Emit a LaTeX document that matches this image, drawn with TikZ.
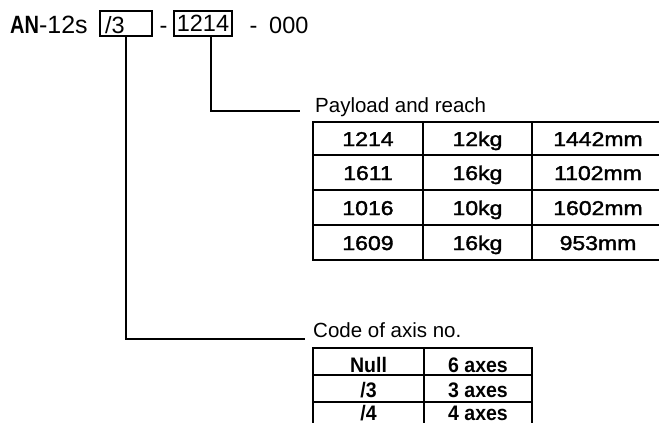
\documentclass[tikz,border=0pt]{standalone}
\usepackage{fontspec}
\setmainfont{Liberation Sans}
\newfontfamily\headfont{Liberation Sans}
\newfontfamily\labfont{Liberation Sans}
\newfontfamily\tabfont[FakeBold=1.6]{Liberation Sans}
\newfontfamily\codefont{Liberation Sans}
\begin{document}
\begin{tikzpicture}[x=1pt,y=-1pt,
  box/.style={draw=black,line width=1.3pt,inner sep=0pt},
  conn/.style={draw=black,line width=2pt},
  grid/.style={draw=black,line width=2pt},
  head/.style={inner sep=0pt,font=\headfont\fontsize{23.5}{26}\selectfont},
  lab/.style={inner sep=0pt,anchor=base west,font=\labfont\fontsize{20.5}{24}\selectfont},
  cellA/.style={inner sep=0pt,anchor=base,font=\tabfont\fontsize{20}{23}\selectfont},
  cellB/.style={inner sep=0pt,anchor=base,font=\codefont\bfseries\fontsize{21}{23}\selectfont}]
\useasboundingbox (0,0) rectangle (659,423);
\clip (0,0) rectangle (659,423);
% header
\node[inner sep=0pt,anchor=base west,font=\headfont\fontsize{25}{28}\selectfont] (an) at (10,33) {\scalebox{0.8}[1]{\bfseries AN}-12s};
\node[box,minimum width=52pt,minimum height=25pt] (b3) at (126,23.5) {};
\node[head,anchor=base west] (t3) at (105,33) {/3};
\node[head,anchor=base] (d1) at (163.5,33) {-};
\node[box,minimum width=58pt,minimum height=25pt,font=\headfont\fontsize{23.5}{26}\selectfont] (b1214) at (203,23.5) {1214};
\node[head,anchor=base] (d2) at (253.5,33) {-};
\node[head,anchor=base west] (n000) at (269,33) {000};
% connectors
\coordinate (c1214) at (300,111);
\coordinate (c3) at (305,339);
\draw[conn] ([xshift=7.5pt]b1214.south) |- (c1214);
\draw[conn] (b3.south) |- (c3);
% labels
\node[lab] (lp) at (315,112) {Payload and reach};
\node[lab] (lc) at (313,337) {Code of axis no.};
% table 1
\foreach \yy in {122,155,190,225,260} \draw[grid] (313,\yy) -- (659,\yy);
\foreach \xx in {313,423,532} \draw[grid] (\xx,121) -- (\xx,261);
\foreach \r/\a/\b/\c/\yy in {1/1214/12kg/1442mm/146,2/1611/16kg/1102mm/180,3/1016/10kg/1602mm/215,4/1609/16kg/953mm/250}{
  \node[cellA] (p\r a) at (368,\yy) {\scalebox{1.15}[1]{\a}};
  \node[cellA] (p\r b) at (477.5,\yy) {\scalebox{1.15}[1]{\b}};
  \node[cellA] (p\r c) at (598,\yy) {\scalebox{1.15}[1]{\c}};
}
% table 2
\foreach \yy in {348,375,402} \draw[grid] (313,\yy) -- (532,\yy);
\foreach \xx in {313,424,532} \draw[grid] (\xx,347) -- (\xx,424);
\foreach \r/\a/\b/\yy in {1/Null/{6 axes}/372,2/{/3}/{3 axes}/397,3/{/4}/{4 axes}/420}{
  \node[cellB] (q\r a) at (368.5,\yy) {\scalebox{0.93}[1]{\a}};
  \node[cellB] (q\r b) at (478,\yy) {\scalebox{0.93}[1]{\b}};
}
\end{tikzpicture}
\end{document}
